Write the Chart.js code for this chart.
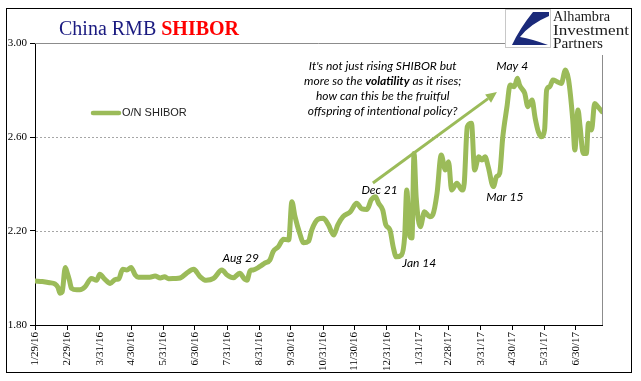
<!DOCTYPE html>
<html><head><meta charset="utf-8">
<script src="https://cdn.jsdelivr.net/npm/chart.js@4"></script>
<style>html,body{margin:0;padding:0;background:#fff;}#wrap{width:641px;height:381px;position:relative;}</style>
</head><body><div id="wrap"><canvas id="c" width="641" height="381"></canvas></div>
<script>
// ---- data ----
const seriesLabel = 'O/N SHIBOR';
// days since 1/29/16
const obsDays = [0,7,14,19,22,24,26,29,31,33,35,40,43,48,54,59,62,67,72,77,80,84,88,92,96,99,105,110,115,120,124,128,134,139,145,152,158,164,171,179,184,190,196,201,203,206,209,215,220,225,228,233,238,243,246,249,254,257,262,265,271,276,281,286,290,295,302,308,313,318,322,326,329,333,336,340,343,346,351,354,356,359,361,363,365,369,373,378,381,385,389,393,396,399,404,409,411,414,418,421,425,428,431,434,439,442,445,448,452,455,459,462,464,469,472,476,479,482,485,488,490,493,496,500,504,508,511,515,517,520,522,525,528,530,533,536,539,543];
const rates = [1.987,1.985,1.980,1.975,1.960,1.935,1.940,2.045,2.020,1.990,1.956,1.950,1.950,1.963,1.998,1.990,2.016,1.994,1.977,1.994,1.995,2.037,2.034,2.045,2.013,2.003,2.003,2.003,2.008,2.000,2.005,1.997,1.998,2.000,2.020,2.037,2.006,1.990,1.998,2.034,2.013,2.001,2.020,1.994,1.990,2.031,2.034,2.048,2.063,2.077,2.112,2.133,2.165,2.162,2.325,2.261,2.183,2.150,2.157,2.204,2.250,2.254,2.226,2.183,2.226,2.261,2.282,2.318,2.294,2.292,2.332,2.346,2.318,2.289,2.226,2.204,2.133,2.090,2.098,2.176,2.374,2.176,2.170,2.530,2.346,2.218,2.282,2.261,2.270,2.360,2.523,2.460,2.495,2.374,2.403,2.374,2.400,2.644,2.658,2.460,2.516,2.502,2.516,2.474,2.389,2.431,2.446,2.601,2.729,2.821,2.814,2.850,2.821,2.786,2.729,2.757,2.680,2.623,2.601,2.630,2.800,2.814,2.843,2.835,2.828,2.885,2.843,2.672,2.545,2.715,2.644,2.530,2.530,2.658,2.630,2.743,2.729,2.708];
const tickDays = [0,31,62,92,123,153,184,215,245,276,306,337,368,396,427,457,488,518];
const tickLabels = ['1/29/16','2/29/16','3/31/16','4/30/16','5/31/16','6/30/16','7/31/16','8/31/16','9/30/16','10/31/16','11/30/16','12/31/16','1/31/17','2/28/17','3/31/17','4/30/17','5/31/17','6/30/17'];
const yTicks = [1.8, 2.2, 2.6, 3.0];
const dateNotes = ['May 4','Dec 21','Jan 14','Mar 15','Aug 29'];
const noteDays = [457, 330, 368, 450, 197];
const noteValues = [2.902, 2.374, 2.064, 2.345, 2.085];
const calloutLines = [["It's not just rising SHIBOR but"],["more so the ","volatility"," as it rises;"],["how can this be the fruitful"],["offspring of intentional policy?"]];
const calloutDay = 333, calloutValue = 2.902;
const arrowDays = [323.6, 442.4];
const arrowValues = [2.404, 2.791];

const GREEN = '#9BBB59';

const decor = {
  id:'decor',
  beforeDatasetsDraw(chart){
    const {ctx, chartArea:a, scales:{y}} = chart;
    ctx.save();
    ctx.lineWidth = 1;
    ctx.strokeStyle = '#A6A6A6';
    ctx.setLineDash([2,2]);
    [2.2,2.6].forEach(v=>{
      const py = Math.round(y.getPixelForValue(v))+0.5;
      ctx.beginPath(); ctx.moveTo(a.left+1, py); ctx.lineTo(a.right, py); ctx.stroke();
    });
    ctx.setLineDash([]);
    ctx.strokeStyle = '#8C8C8C';
    const ty = Math.round(y.getPixelForValue(3.0))+0.5;
    ctx.beginPath(); ctx.moveTo(a.left, ty); ctx.lineTo(Math.round(a.right)+0.5, ty);
    ctx.lineTo(Math.round(a.right)+0.5, a.bottom); ctx.stroke();
    ctx.restore();
  },
  afterDraw(chart){
    const {ctx, chartArea:a, scales:{x,y}} = chart;
    ctx.save();
    // outer frame
    ctx.strokeStyle = '#000'; ctx.lineWidth = 1;
    ctx.strokeRect(6.5, 8.5, 625, 364);
    // title
    ctx.textBaseline = 'alphabetic'; ctx.textAlign = 'left';
    ctx.font = '20px "Liberation Serif"';
    ctx.fillStyle = '#1a1a80';
    const t1 = 'China RMB ';
    ctx.fillText(t1, 59, 35);
    const w1 = ctx.measureText(t1).width;
    ctx.font = 'bold 20px "Liberation Serif"';
    ctx.fillStyle = '#FF0000';
    ctx.fillText('SHIBOR', 59 + w1, 35);
    // legend
    const ly = a.top + 70;
    ctx.strokeStyle = GREEN; ctx.lineWidth = 4.5; ctx.lineCap = 'round';
    ctx.beginPath(); ctx.moveTo(a.left+58, ly); ctx.lineTo(a.left+84, ly); ctx.stroke();
    ctx.fillStyle = '#222'; ctx.font = '11px "Liberation Sans"'; ctx.textBaseline = 'middle';
    ctx.fillText(seriesLabel, a.left+87, ly);
    // arrow
    const ax0 = x.getPixelForValue(arrowDays[0]), ay0 = y.getPixelForValue(arrowValues[0]);
    const ax1 = x.getPixelForValue(arrowDays[1]), ay1 = y.getPixelForValue(arrowValues[1]);
    const ang = Math.atan2(ay1-ay0, ax1-ax0);
    const hl = 11, hw = 5;
    const bx = ax1 - hl*Math.cos(ang), by = ay1 - hl*Math.sin(ang);
    ctx.lineCap = 'butt'; ctx.lineWidth = 3; ctx.strokeStyle = GREEN;
    ctx.beginPath(); ctx.moveTo(ax0, ay0); ctx.lineTo(bx, by); ctx.stroke();
    ctx.fillStyle = GREEN;
    ctx.beginPath(); ctx.moveTo(ax1, ay1);
    ctx.lineTo(bx + hw*Math.sin(ang), by - hw*Math.cos(ang));
    ctx.lineTo(bx - hw*Math.sin(ang), by + hw*Math.cos(ang));
    ctx.closePath(); ctx.fill();
    // date notes
    ctx.fillStyle = '#000'; ctx.textAlign = 'center'; ctx.textBaseline = 'middle';
    ctx.font = 'italic 12px Lato';
    dateNotes.forEach((s,i)=>{
      ctx.fillText(s, x.getPixelForValue(noteDays[i]), y.getPixelForValue(noteValues[i]));
    });
    // callout
    const cx = x.getPixelForValue(calloutDay), cy = y.getPixelForValue(calloutValue);
    ctx.textAlign = 'left';
    calloutLines.forEach((parts, li)=>{
      const fonts = parts.map((p,pi)=> (parts.length===3 && pi===1) ? 'italic bold 12px Lato' : 'italic 12px Lato');
      let total = 0;
      parts.forEach((p,pi)=>{ ctx.font = fonts[pi]; total += ctx.measureText(p).width; });
      let px = cx - total/2;
      parts.forEach((p,pi)=>{ ctx.font = fonts[pi]; ctx.fillText(p, px, cy + li*15); px += ctx.measureText(p).width; });
    });
    // logo
    ctx.fillStyle = '#fff';
    ctx.fillRect(505, 9, 126, 46);
    ctx.strokeStyle = '#C8C8C8'; ctx.lineWidth = 1;
    ctx.strokeRect(505.5, 9.5, 45, 38);
    ctx.fillStyle = '#1B2A7A';
    ctx.beginPath();
    ctx.moveTo(533,12); ctx.lineTo(549,12); ctx.lineTo(549,16);
    ctx.quadraticCurveTo(530,24, 520,37);
    ctx.quadraticCurveTo(532,39, 548,45);
    ctx.lineTo(512,45);
    ctx.quadraticCurveTo(520,28, 533,12);
    ctx.closePath(); ctx.fill();
    ctx.fillStyle = '#1a1a1a'; ctx.textBaseline = 'alphabetic'; ctx.textAlign = 'left';
    ctx.font = '14px "Liberation Serif"';
    [['Alhambra',21,57],['Investment',35,76],['Partners',48,50]].forEach(([s,by,w])=>{
      const mw = ctx.measureText(s).width;
      ctx.save(); ctx.translate(553, by); ctx.scale(w/mw, 1); ctx.fillText(s, 0, 0); ctx.restore();
    });
    ctx.restore();
  }
};

new Chart(document.getElementById('c'), {
  type:'line',
  data:{datasets:[{
    label: seriesLabel,
    data: obsDays.map((d,i)=>({x:d, y:rates[i]})),
    borderColor: GREEN, backgroundColor: GREEN,
    borderWidth: 5, pointRadius: 0,
    cubicInterpolationMode: 'monotone',
    borderCapStyle:'round', borderJoinStyle:'round'
  }]},
  options:{
    responsive:false, animation:false, devicePixelRatio:1,
    layout:{padding:{left:0, top:43, right:39, bottom:0}},
    plugins:{legend:{display:false}, tooltip:{enabled:false}},
    scales:{
      x:{type:'linear', min:0, max:543,
        afterBuildTicks:s=>{ s.ticks = tickDays.map(v=>({value:v})); },
        ticks:{autoSkip:false, maxRotation:90, minRotation:90, padding:2, color:'#000',
          font:{family:'Liberation Serif', size:11},
          callback:(v)=>tickLabels[tickDays.indexOf(v)]},
        grid:{drawOnChartArea:false, drawTicks:true, tickLength:5, color:'#000'},
        border:{color:'#000', width:1},
        afterFit:s=>{ s.height = 56; }
      },
      y:{min:1.8, max:3.0,
        afterBuildTicks:s=>{ s.ticks = yTicks.map(v=>({value:v})); },
        ticks:{padding:3, color:'#000', font:{family:'Liberation Serif', size:11},
          callback:v=>Number(v).toFixed(2)},
        grid:{drawOnChartArea:false, drawTicks:true, tickLength:5, color:'#000'},
        border:{color:'#000', width:1},
        afterFit:s=>{ s.height; s.width = 35; }
      }
    }
  },
  plugins:[decor]
});
</script></body></html>
